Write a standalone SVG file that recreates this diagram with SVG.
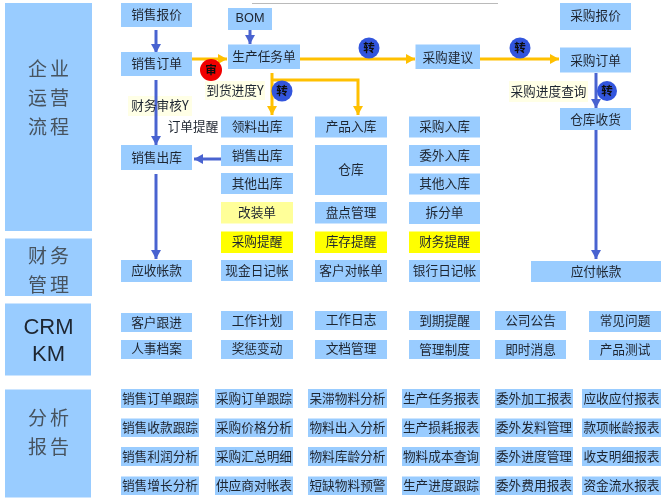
<svg xmlns="http://www.w3.org/2000/svg" width="671" height="500" viewBox="0 0 671 500">
<style>
text{font-family:"Noto Sans CJK SC","Liberation Sans",sans-serif;text-anchor:middle;dominant-baseline:central;fill:#1f2530;font-size:12.7px;transform:translateY(-1.2px)}
.b{fill:#99ccff}.y{fill:#ffff00}.ly{fill:#ffff99}.p{fill:#ffffe6}
.h{font-size:19px;letter-spacing:3px;fill:#46525e;transform:translateY(-1.5px)}
.en{font-family:"Liberation Sans",sans-serif;font-size:22px;fill:#1f2530;transform:none}
.c{font-size:11.500px;font-weight:700;fill:#111}
.bl{stroke:#4a63d0;stroke-width:3;fill:none}
.or{stroke:#ffc000;stroke-width:3;fill:none}
</style>
<defs>
<marker id="ab" markerUnits="userSpaceOnUse" markerWidth="10" markerHeight="11" refX="9" refY="5" orient="auto"><path d="M0 0L9 5L0 10z" fill="#4a63d0"/></marker>
<marker id="ao" markerUnits="userSpaceOnUse" markerWidth="10" markerHeight="11" refX="9" refY="5" orient="auto"><path d="M0 0L9 5L0 10z" fill="#ffc000"/></marker>
<filter id="soft" x="0" y="0" width="1" height="1"><feGaussianBlur stdDeviation="0.45"/></filter>
</defs>
<rect width="671" height="500" fill="#fff"/>
<g filter="url(#soft)">
<path d="M252 3H498" stroke="#777" stroke-width="1"/>
<g id="panels">
<g id="p1"><rect class="b" x="5" y="3" width="87" height="228"/><text class="h"><tspan x="50" y="68">企业</tspan><tspan x="50" y="97">运营</tspan><tspan x="50" y="126">流程</tspan></text></g>
<g id="p2"><rect class="b" x="5" y="238.500" width="87" height="57.500"/><text class="h"><tspan x="50" y="255">财务</tspan><tspan x="50" y="284">管理</tspan></text></g>
<g id="p3"><rect class="b" x="5" y="303.500" width="86" height="72"/><text class="en"><tspan x="48.500" y="326">CRM</tspan><tspan x="48.500" y="353">KM</tspan></text></g>
<g id="p4"><rect class="b" x="5" y="389.500" width="86" height="108"/><text class="h"><tspan x="50" y="417">分析</tspan><tspan x="50" y="446">报告</tspan></text></g>
</g>
<rect class="p" x="128" y="96" width="64" height="20"/>
<rect class="p" x="205" y="81" width="60" height="19"/>
<rect class="p" x="509" y="81" width="79" height="21"/>
<g id="connectors">
<path class="bl" d="M156 30V53" marker-end="url(#ab)"/>
<path class="bl" d="M250 30V44" marker-end="url(#ab)"/>
<path class="bl" d="M156 80V145" marker-end="url(#ab)"/>
<path class="bl" d="M221 159H194" marker-end="url(#ab)"/>
<path class="bl" d="M156 174V259" marker-end="url(#ab)"/>
<path class="bl" d="M596 73V108" marker-end="url(#ab)"/>
<path class="bl" d="M596 130V259" marker-end="url(#ab)"/>
<path class="or" d="M192 59H227" marker-end="url(#ao)"/>
<path class="or" d="M300 59H415" marker-end="url(#ao)"/>
<path class="or" d="M480 59H559" marker-end="url(#ao)"/>
<path class="or" d="M272 73V115" marker-end="url(#ao)"/>
<path class="or" d="M272 80H358V115" marker-end="url(#ao)"/>
</g>
<g id="labels">
<g id="l1"><text x="160" y="106">财务审核Y</text></g>
<g id="l2"><text x="235" y="90.500">到货进度Y</text></g>
<g id="l3"><text x="193" y="127">订单提醒</text></g>
<g id="l4"><text x="548.500" y="91.500">采购进度查询</text></g>
</g>
<g id="c1"><circle cx="211" cy="70" r="11" fill="#f00000"/><text class="c" x="211" y="70">审</text></g>
<g id="c2"><circle cx="282" cy="91" r="10.500" fill="#3355dd"/><text class="c" x="282" y="91">转</text></g>
<g id="c3"><circle cx="369" cy="48" r="10.500" fill="#3355dd"/><text class="c" x="369" y="48">转</text></g>
<g id="c4"><circle cx="520" cy="48" r="10.500" fill="#3355dd"/><text class="c" x="520" y="48">转</text></g>
<g id="c5"><circle cx="607" cy="91" r="10" fill="#3355dd"/><text class="c" x="607" y="91">转</text></g>
<g id="flow">
<g id="n1"><rect class="b" x="121" y="3" width="71" height="24"/><text x="156.500" y="15">销售报价</text></g>
<g id="n2"><rect class="b" x="121" y="52" width="71" height="24"/><text x="156.500" y="64">销售订单</text></g>
<g id="n3"><rect class="b" x="121" y="145" width="71" height="25"/><text x="156.500" y="158">销售出库</text></g>
<g id="n4"><rect class="b" x="121" y="260" width="71" height="22"/><text x="156.500" y="271">应收帐款</text></g>
<g id="n5"><rect class="b" x="228" y="8" width="44" height="22"/><text x="250" y="19" style="font-family:'Liberation Sans',sans-serif">BOM</text></g>
<g id="n6"><rect class="b" x="228" y="44.500" width="72" height="24.500"/><text x="264" y="57">生产任务单</text></g>
<g id="n7"><rect class="b" x="221" y="116.500" width="72" height="21"/><text x="257" y="127">领料出库</text></g>
<g id="n8"><rect class="b" x="221" y="145" width="72" height="21"/><text x="257" y="155.500">销售出库</text></g>
<g id="n9"><rect class="b" x="221" y="173" width="72" height="21"/><text x="257" y="183.500">其他出库</text></g>
<g id="n10"><rect class="ly" x="221" y="202" width="72" height="21.500"/><text x="257" y="212.500">改装单</text></g>
<g id="n11"><rect class="y" x="221" y="231.500" width="72" height="21.500"/><text x="257" y="242">采购提醒</text></g>
<g id="n12"><rect class="b" x="221" y="260" width="72" height="21"/><text x="257" y="270.500">现金日记帐</text></g>
<g id="n13"><rect class="b" x="315" y="116.500" width="72" height="21"/><text x="351" y="127">产品入库</text></g>
<g id="n14"><rect class="b" x="315" y="145" width="72" height="50"/><text x="351" y="170">仓库</text></g>
<g id="n15"><rect class="b" x="315" y="202" width="72" height="21.500"/><text x="351" y="213">盘点管理</text></g>
<g id="n16"><rect class="y" x="315" y="231.500" width="72" height="21.500"/><text x="351" y="242">库存提醒</text></g>
<g id="n17"><rect class="b" x="315" y="260" width="72" height="22"/><text x="351" y="271">客户对帐单</text></g>
<g id="n18"><rect class="b" x="409" y="116.500" width="71" height="21"/><text x="444.500" y="127">采购入库</text></g>
<g id="n19"><rect class="b" x="409" y="145" width="71" height="21"/><text x="444.500" y="155.500">委外入库</text></g>
<g id="n20"><rect class="b" x="409" y="173.500" width="71" height="21"/><text x="444.500" y="184">其他入库</text></g>
<g id="n21"><rect class="b" x="409" y="202" width="71" height="22"/><text x="444.500" y="213">拆分单</text></g>
<g id="n22"><rect class="y" x="409" y="231.500" width="71" height="21.500"/><text x="444.500" y="242">财务提醒</text></g>
<g id="n23"><rect class="b" x="409" y="260" width="71" height="22"/><text x="444.500" y="271">银行日记帐</text></g>
<g id="n24"><rect class="b" x="415.500" y="44.500" width="64.500" height="24.500"/><text x="447.750" y="57.500">采购建议</text></g>
<g id="n25"><rect class="b" x="560" y="3" width="71" height="27"/><text x="595.500" y="16">采购报价</text></g>
<g id="n26"><rect class="b" x="560" y="47.500" width="71" height="25"/><text x="595.500" y="60.500">采购订单</text></g>
<g id="n27"><rect class="b" x="560" y="108" width="71" height="22"/><text x="595.500" y="119.500">仓库收货</text></g>
<g id="n28"><rect class="b" x="531" y="261" width="130" height="21"/><text x="596" y="271.500">应付帐款</text></g>
</g>
<g id="crm">
<g id="m1"><rect class="b" x="121" y="313" width="71" height="19"/><text x="156.500" y="323">客户跟进</text></g>
<g id="m2"><rect class="b" x="121" y="340" width="71" height="19"/><text x="156.500" y="349">人事档案</text></g>
<g id="m3"><rect class="b" x="221" y="311" width="72" height="19"/><text x="257" y="321">工作计划</text></g>
<g id="m4"><rect class="b" x="221" y="340" width="72" height="19"/><text x="257" y="349">奖惩变动</text></g>
<g id="m5"><rect class="b" x="315" y="311" width="72" height="19"/><text x="351" y="320">工作日志</text></g>
<g id="m6"><rect class="b" x="315" y="340" width="72" height="19"/><text x="351" y="349">文档管理</text></g>
<g id="m7"><rect class="b" x="409" y="311" width="71" height="19"/><text x="444.500" y="321">到期提醒</text></g>
<g id="m8"><rect class="b" x="409" y="340" width="71" height="19"/><text x="444.500" y="350">管理制度</text></g>
<g id="m9"><rect class="b" x="495" y="311" width="71" height="19"/><text x="530.500" y="321">公司公告</text></g>
<g id="m10"><rect class="b" x="495" y="340" width="71" height="19"/><text x="530.500" y="350">即时消息</text></g>
<g id="m11"><rect class="b" x="589" y="311" width="72" height="21"/><text x="625" y="321">常见问题</text></g>
<g id="m12"><rect class="b" x="589" y="340" width="72" height="20"/><text x="625" y="350">产品测试</text></g>
</g>
<g id="reports">
<g id="r1"><rect class="b" x="121" y="389" width="78" height="19"/><text x="160" y="399">销售订单跟踪</text></g>
<g id="r2"><rect class="b" x="121" y="418.500" width="78" height="18.500"/><text x="160" y="428">销售收款跟踪</text></g>
<g id="r3"><rect class="b" x="121" y="447" width="78" height="19"/><text x="160" y="457">销售利润分析</text></g>
<g id="r4"><rect class="b" x="121" y="476.500" width="78" height="18.500"/><text x="160" y="486">销售增长分析</text></g>
<g id="r5"><rect class="b" x="215" y="389" width="78" height="19"/><text x="254" y="399">采购订单跟踪</text></g>
<g id="r6"><rect class="b" x="215" y="418.500" width="78" height="18.500"/><text x="254" y="428">采购价格分析</text></g>
<g id="r7"><rect class="b" x="215" y="447" width="78" height="19"/><text x="254" y="457">采购汇总明细</text></g>
<g id="r8"><rect class="b" x="215" y="476.500" width="78" height="18.500"/><text x="254" y="486">供应商对帐表</text></g>
<g id="r9"><rect class="b" x="308" y="389" width="79" height="19"/><text x="347.500" y="399">呆滞物料分析</text></g>
<g id="r10"><rect class="b" x="308" y="418.500" width="79" height="18.500"/><text x="347.500" y="428">物料出入分析</text></g>
<g id="r11"><rect class="b" x="308" y="447" width="79" height="19"/><text x="347.500" y="457">物料库龄分析</text></g>
<g id="r12"><rect class="b" x="308" y="476.500" width="79" height="18.500"/><text x="347.500" y="486">短缺物料预警</text></g>
<g id="r13"><rect class="b" x="402" y="389" width="78" height="19"/><text x="441" y="399">生产任务报表</text></g>
<g id="r14"><rect class="b" x="402" y="418.500" width="78" height="18.500"/><text x="441" y="428">生产损耗报表</text></g>
<g id="r15"><rect class="b" x="402" y="447" width="78" height="19"/><text x="441" y="457">物料成本查询</text></g>
<g id="r16"><rect class="b" x="402" y="476.500" width="78" height="18.500"/><text x="441" y="486">生产进度跟踪</text></g>
<g id="r17"><rect class="b" x="495" y="389" width="78" height="19"/><text x="534" y="399">委外加工报表</text></g>
<g id="r18"><rect class="b" x="495" y="418.500" width="78" height="18.500"/><text x="534" y="428">委外发料管理</text></g>
<g id="r19"><rect class="b" x="495" y="447" width="78" height="19"/><text x="534" y="457">委外进度管理</text></g>
<g id="r20"><rect class="b" x="495" y="476.500" width="78" height="18.500"/><text x="534" y="486">委外费用报表</text></g>
<g id="r21"><rect class="b" x="582" y="389" width="79" height="19"/><text x="621.500" y="399">应收应付报表</text></g>
<g id="r22"><rect class="b" x="582" y="418.500" width="79" height="18.500"/><text x="621.500" y="428">款项帐龄报表</text></g>
<g id="r23"><rect class="b" x="582" y="447" width="79" height="19"/><text x="621.500" y="457">收支明细报表</text></g>
<g id="r24"><rect class="b" x="582" y="476.500" width="79" height="18.500"/><text x="621.500" y="486">资金流水报表</text></g>
</g>
</g>
</svg>
